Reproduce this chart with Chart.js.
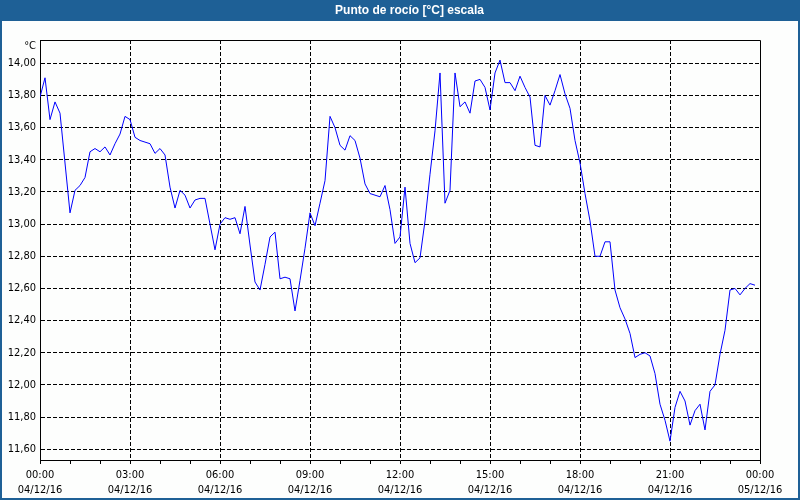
<!DOCTYPE html>
<html>
<head>
<meta charset="utf-8">
<script src="https://cdn.jsdelivr.net/npm/chart.js@4"></script>
<style>
  html, body { margin: 0; padding: 0; background: #1e6096; }
  #box { position: relative; width: 800px; height: 500px; }
  canvas { display: block; }
</style>
</head>
<body>
<div id="box"><canvas id="c" width="800" height="500"></canvas></div>
<script>
// ---- data (10-minute samples, 04/12/16 00:00 .. 23:50) ----
const TITLE = 'Punto de rocío [°C] escala';
const UNIT = '°C';
const SAMPLE_MINUTES = 10;
const dewPoint = [
  13.79, 13.91, 13.65, 13.76, 13.69, 13.38, 13.07, 13.21, 13.24, 13.29,
  13.45, 13.47, 13.45, 13.48, 13.43, 13.50, 13.56, 13.67, 13.65, 13.54,
  13.52, 13.51, 13.50, 13.44, 13.47, 13.43, 13.23, 13.10, 13.21, 13.18,
  13.10, 13.15, 13.16, 13.16, 13.00, 12.84, 13.00, 13.04, 13.03, 13.04,
  12.94, 13.11, 12.87, 12.64, 12.59, 12.75, 12.92, 12.95, 12.66, 12.67,
  12.66, 12.46, 12.65, 12.85, 13.07, 12.99, 13.13, 13.27, 13.67, 13.60,
  13.49, 13.46, 13.55, 13.52, 13.41, 13.25, 13.19, 13.18, 13.17, 13.24,
  13.09, 12.88, 12.92, 13.23, 12.88, 12.76, 12.79, 13.02, 13.31, 13.58,
  13.94, 13.13, 13.21, 13.94, 13.73, 13.76, 13.69, 13.89, 13.90, 13.85,
  13.71, 13.94, 14.02, 13.88, 13.88, 13.83, 13.92, 13.85, 13.79, 13.49,
  13.48, 13.80, 13.74, 13.83, 13.93, 13.81, 13.72, 13.52, 13.38, 13.19,
  13.02, 12.80, 12.80, 12.89, 12.89, 12.59, 12.48, 12.41, 12.32, 12.17,
  12.19, 12.20, 12.18, 12.07, 11.88, 11.78, 11.65, 11.86, 11.96, 11.90,
  11.75, 11.84, 11.88, 11.72, 11.96, 12.00, 12.19, 12.34, 12.59, 12.60,
  12.56, 12.60, 12.63, 12.62
];
const xTickHours = [0,1,2,3,4,5,6,7,8,9,10,11,12,13,14,15,16,17,18,19,20,21,22,23,24];
const xTickTimes = ['00:00','03:00','06:00','09:00','12:00','15:00','18:00','21:00','00:00'];
const xTickDates = ['04/12/16','04/12/16','04/12/16','04/12/16','04/12/16','04/12/16','04/12/16','04/12/16','05/12/16'];
const yTicks = [11.6, 11.8, 12.0, 12.2, 12.4, 12.6, 12.8, 13.0, 13.2, 13.4, 13.6, 13.8, 14.0];
const Y_MIN = 11.533, Y_MAX = 14.145;

const points = dewPoint.map((v, i) => ({ x: i * SAMPLE_MINUTES / 60, y: v }));

const FONT = "'DejaVu Sans Condensed', 'Liberation Sans', sans-serif";
const FRAME = '#1e6096';
const BG = '#fdfefd';

const decor = {
  id: 'decor',
  beforeDraw(chart) {
    const ctx = chart.ctx;
    ctx.save();
    ctx.fillStyle = FRAME;
    ctx.fillRect(0, 0, chart.width, chart.height);
    ctx.fillStyle = BG;
    ctx.fillRect(2, 21, chart.width - 4, chart.height - 23);
    ctx.fillStyle = '#ffffff';
    ctx.font = "bold 12px 'Liberation Sans', sans-serif";
    ctx.textAlign = 'center';
    ctx.textBaseline = 'middle';
    ctx.fillText(TITLE, 409.5, 10.5);
    ctx.restore();
  },
  afterDraw(chart) {
    const ctx = chart.ctx;
    const a = chart.chartArea;
    ctx.save();
    ctx.strokeStyle = '#000';
    ctx.lineWidth = 1;
    ctx.setLineDash([]);
    const t = Math.round(a.top) + 0.5, r = Math.round(a.right) + 0.5;
    ctx.beginPath();
    ctx.moveTo(a.left, t);
    ctx.lineTo(r, t);
    ctx.lineTo(r, a.bottom + 1);
    ctx.stroke();
    ctx.fillStyle = '#000';
    ctx.font = '11px ' + FONT;
    ctx.textAlign = 'right';
    ctx.textBaseline = 'middle';
    ctx.fillText(UNIT, a.left - 4, a.top + 6.5);
    ctx.restore();
  }
};

new Chart(document.getElementById('c'), {
  type: 'line',
  data: {
    datasets: [{
      data: points,
      borderColor: '#0000ff',
      borderWidth: 1,
      pointRadius: 0,
      tension: 0,
      fill: false
    }]
  },
  options: {
    responsive: false,
    animation: false,
    devicePixelRatio: 1,
    layout: { padding: { left: 0, top: 40, right: 40, bottom: 0 } },
    plugins: { legend: { display: false }, title: { display: false }, tooltip: { enabled: false } },
    scales: {
      x: {
        type: 'linear',
        min: 0,
        max: 24,
        afterBuildTicks(scale) { scale.ticks = xTickHours.map(v => ({ value: v })); },
        afterFit(scale) { scale.height = 40; },
        grid: {
          color: ctx => (ctx.tick && ctx.tick.value % 3 === 0 && ctx.tick.value < 24) ? '#000' : 'rgba(0,0,0,0)',
          tickColor: '#000',
          tickLength: 4,
          lineWidth: 1
        },
        border: { display: true, color: '#000', width: 1, dash: [4, 2] },
        ticks: {
          autoSkip: false,
          maxRotation: 0,
          padding: 3.5,
          color: '#000',
          font: { family: FONT, size: 11, lineHeight: 1.364 },
          callback(v) {
            if (v % 3 !== 0) return '';
            const k = v / 3;
            return [xTickTimes[k], xTickDates[k]];
          }
        }
      },
      y: {
        type: 'linear',
        min: Y_MIN,
        max: Y_MAX,
        afterBuildTicks(scale) { scale.ticks = yTicks.map(v => ({ value: v })); },
        afterFit(scale) { scale.width = 40; },
        grid: { color: '#000', drawTicks: false, lineWidth: 1 },
        border: { display: true, color: '#000', width: 1, dash: [4, 2] },
        ticks: {
          padding: 4,
          color: '#000',
          font: { family: FONT, size: 11 },
          callback(v) { return v.toFixed(2).replace('.', ','); }
        }
      }
    }
  },
  plugins: [decor]
});
</script>
</body>
</html>
